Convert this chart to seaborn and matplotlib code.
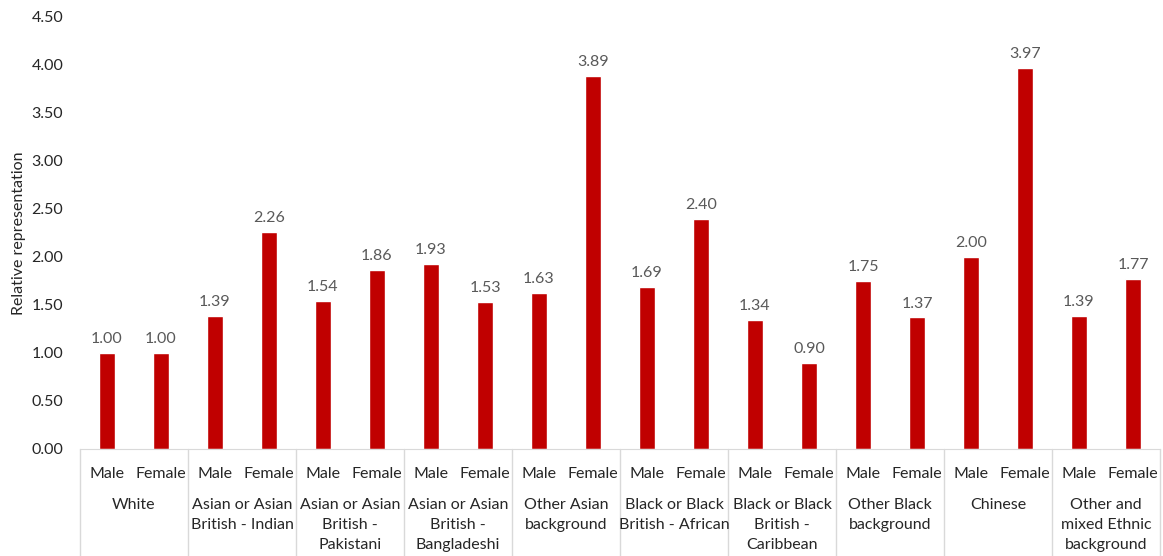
import numpy as np
import pandas as pd
import seaborn as sns
import matplotlib.pyplot as plt
from matplotlib.lines import Line2D
from matplotlib.transforms import blended_transform_factory

# data
groups = ["White", "Asian or Asian\nBritish - Indian", "Asian or Asian\nBritish -\nPakistani",
          "Asian or Asian\nBritish -\nBangladeshi", "Other Asian\nbackground",
          "Black or Black\nBritish - African", "Black or Black\nBritish -\nCaribbean",
          "Other Black\nbackground", "Chinese", "Other and\nmixed Ethnic\nbackground"]
sexes = ["Male", "Female"]
male_vals = [1.00, 1.39, 1.54, 1.93, 1.63, 1.69, 1.34, 1.75, 2.00, 1.39]
female_vals = [1.00, 2.26, 1.86, 1.53, 3.89, 2.40, 0.90, 1.37, 3.97, 1.77]

rows = []
for i, g in enumerate(groups):
    rows.append({"slot": f"{i}-Male", "sex": "Male", "value": male_vals[i]})
    rows.append({"slot": f"{i}-Female", "sex": "Female", "value": female_vals[i]})
df = pd.DataFrame(rows)

sns.set_style("white")
plt.rcParams['font.family'] = ['Lato', 'DejaVu Sans']
fs = 11.5

fig = plt.figure(figsize=(11.63, 5.56), dpi=100)
ax = fig.add_axes([80 / 1163, 107 / 556, 1080 / 1163, 432 / 556])

sns.barplot(data=df, x="slot", y="value", color="#C00000", width=0.31,
            saturation=1, ax=ax, errorbar=None)
ax.bar_label(ax.containers[0], fmt="%.2f", padding=5, fontsize=fs, color="#595959")

ax.set_ylim(0, 4.5)
ax.set_xlim(-0.5, len(df) - 0.5)
ax.set_yticks(np.arange(0, 4.51, 0.5))
ax.set_yticklabels([f"{v:.2f}" for v in np.arange(0, 4.51, 0.5)], fontsize=fs, color="#262626")
ax.set_xticks(range(len(df)))
ax.set_xticklabels(df["sex"], fontsize=fs, color="#262626")
ax.tick_params(axis="both", length=0)
ax.tick_params(axis="x", pad=13)
ax.tick_params(axis="y", pad=12)
ax.set_xlabel("")
ax.set_ylabel("Relative representation", fontsize=fs, color="#262626")
ax.yaxis.set_label_coords(-54 / 1080, 0.5)

for s in ["top", "right", "left"]:
    ax.spines[s].set_visible(False)
ax.spines["bottom"].set_color("#d9d9d9")

# group labels and separators below the axis
trans = blended_transform_factory(ax.transData, fig.transFigure)
for i, g in enumerate(groups):
    fig.text(2 * i + 0.5, 1 - 498 / 556, g, transform=trans, ha="center", va="top",
             fontsize=fs, color="#262626", linespacing=1.55)
for b in range(len(groups) + 1):
    x = 2 * b - 0.5
    fig.add_artist(Line2D([x, x], [0, 107 / 556], transform=trans, color="#d9d9d9", lw=1))

fig.savefig("out.png", dpi=100)
